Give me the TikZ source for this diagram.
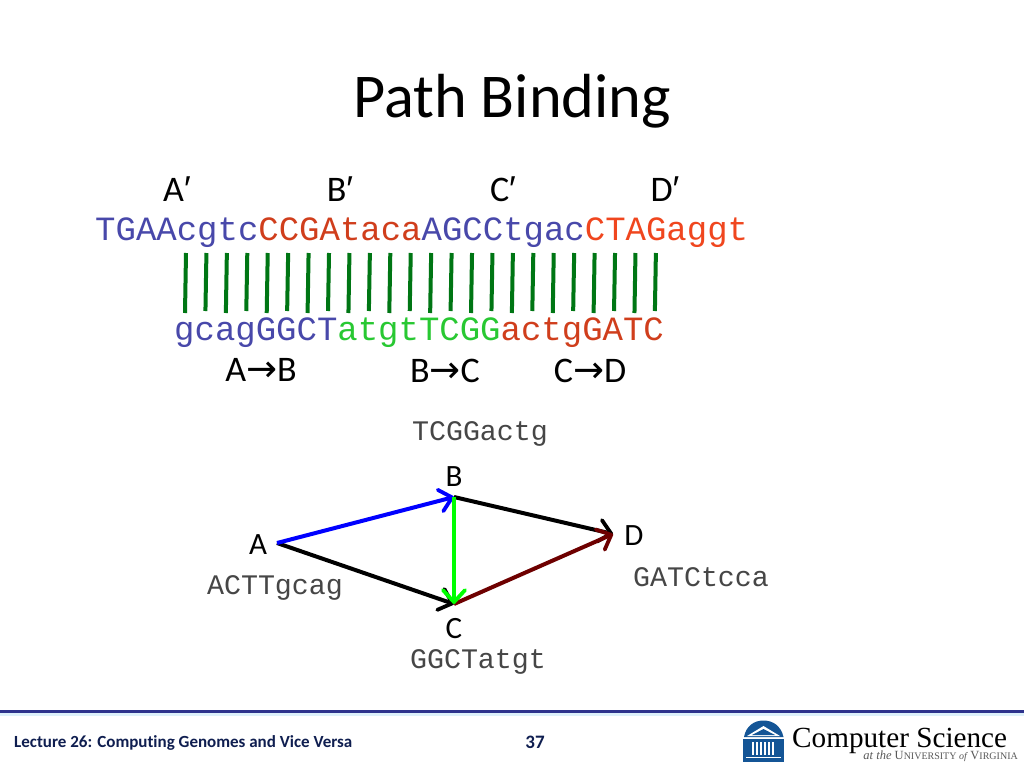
\documentclass[tikz,border=0pt]{standalone}
\usepackage{fontspec}
\setmainfont{Carlito}[Ligatures=NoCommon]
\newfontfamily\seqfont{Liberation Mono}
\newfontfamily\logofont{Liberation Serif}
\newfontfamily\symfont{Liberation Sans}
\newfontfamily\arrowfont{DejaVu Sans}
\usetikzlibrary{arrows.meta}
\definecolor{seqblue}{RGB}{72,72,170}
\definecolor{seqred}{RGB}{208,62,28}
\definecolor{seqbright}{RGB}{240,70,30}
\definecolor{seqgreen}{RGB}{40,200,50}
\definecolor{seqgrey}{RGB}{70,70,70}
\definecolor{bargreen}{RGB}{0,118,20}
\definecolor{arrowred}{RGB}{110,0,0}
\definecolor{navy}{RGB}{45,50,140}
\definecolor{pale}{RGB}{220,240,250}
\definecolor{footink}{RGB}{15,30,80}
\definecolor{uvablue}{RGB}{20,85,150}
\newcommand{\primemark}{{\symfont ′}}
\newcommand{\arrowmark}{{\fontsize{37}{37}\arrowfont →}}
\tikzset{
  x=1pt,y=-1pt,
  lab/.style={inner sep=0pt,font=\fontsize{36}{36}\selectfont,text=black},
  nodelab/.style={inner sep=0pt,font=\fontsize{31}{31}\selectfont,text=black},
  seq/.style={inner sep=0pt,font=\fontsize{34}{34}\seqfont},
  sm/.style={inner sep=0pt,font=\fontsize{28.3}{28}\seqfont,text=seqgrey},
  edge/.style={line width=4pt,-{Straight Barb[length=12pt,width=22pt,line width=3.8pt,round]}},
  bar/.style={bargreen,line width=4pt},
}
\begin{document}
\begin{tikzpicture}
\useasboundingbox (0,0) rectangle (1024,768);
\fill[white] (0,0) rectangle (1024,768);
\node[inner sep=0pt,anchor=base,font=\fontsize{62.3}{62}\selectfont] (title) at (512,117) {Path Binding};
\node[lab] (ap) at (177,189) {A\primemark};
\node[lab] (bp) at (340,189) {B\primemark};
\node[lab] (cp) at (503,189) {C\primemark};
\node[lab] (dp) at (665,189) {D\primemark};
\node[seq,anchor=base west] (top) at (95,240) {\textcolor{seqblue}{TGAAcgtc}\textcolor{seqred}{CCGAtaca}\textcolor{seqblue}{AGCCtgac}\textcolor{seqbright}{CTAGaggt}};
\foreach \i in {0,...,23}{
  \pgfmathsetmacro{\xa}{186+20.43*\i}
  \pgfmathsetmacro{\xb}{185+20.43*\i}
  \pgfmathsetmacro{\yb}{isodd(\i)?311:313}
  \draw[bar] (\xa,253) -- (\xb,\yb);
}
\node[seq,anchor=base west] (bot) at (174,340) {\textcolor{seqblue}{gcagGGCT}\textcolor{seqgreen}{atgtTCGG}\textcolor{seqred}{actgGATC}};
\node[lab] (ab) at (261,370) {A\arrowmark B};
\node[lab] (bc) at (445,371) {B\arrowmark C};
\node[lab] (cd) at (590,371) {C\arrowmark D};
\node[sm] (t1) at (480,434) {TCGGactg};
\node[sm] (t2) at (275,588) {ACTTgcag};
\node[sm] (t3) at (478,662) {GGCTatgt};
\node[sm] (t4) at (701,577) {GATCtcca};
\node[nodelab] (nb) at (454,477) {B};
\node[nodelab] (na) at (258,545) {A};
\node[nodelab] (nc) at (454,629) {C};
\node[nodelab] (nd) at (634,536) {D};
\coordinate (A) at (277,543);
\coordinate (B) at (454,497);
\coordinate (C) at (454,604);
\coordinate (D) at (613,534);
\draw[edge,black] (A) -- (C);
\draw[edge,blue] (A) -- (B);
\draw[edge,black] (B) -- (D);
\draw[edge,arrowred] (C) -- (D);
\draw[edge,green] (B) -- (C);
% footer
\fill[navy] (0,709.5) rectangle (1024,712.5);
\fill[pale] (0,712.5) rectangle (1024,716);
\node[inner sep=0pt,anchor=base west,font=\fontsize{17}{17}\bfseries\selectfont,text=footink] (foot) at (14,747) {Lecture 26: Computing Genomes and Vice Versa};
\node[inner sep=0pt,font=\fontsize{19}{19}\bfseries\selectfont,text=footink] (num) at (535,742) {37};
% logo
\fill[uvablue] (744,737) .. controls (746,726) and (754,720.5) .. (763.5,720.5) .. controls (773,720.5) and (781,726) .. (783.5,737) -- cycle;
\fill[uvablue] (743,739) rectangle (784,762);
\fill[white] (747,736) -- (763.5,726) -- (780,736) -- cycle;
\fill[uvablue] (752,735) -- (763.5,729) -- (775,735) -- cycle;
\foreach \x in {752,756,760,764,768,772}{\fill[white] (\x,742) rectangle +(2,13);}
\fill[white] (746,757) rectangle (781,758.2);
\node[inner sep=0pt,anchor=base west,font=\fontsize{29.2}{30}\logofont,text=black] (cs) at (792,747) {Computer Science};
\node[inner sep=0pt,anchor=base east,font=\fontsize{12.5}{13}\logofont,text=black!65] (uva) at (1018,759) {\textit{at the} U\fontsize{10}{11}\selectfont NIVERSITY \textit{of} \fontsize{12.5}{13}\selectfont V\fontsize{10}{11}\selectfont IRGINIA};
\end{tikzpicture}
\end{document}
